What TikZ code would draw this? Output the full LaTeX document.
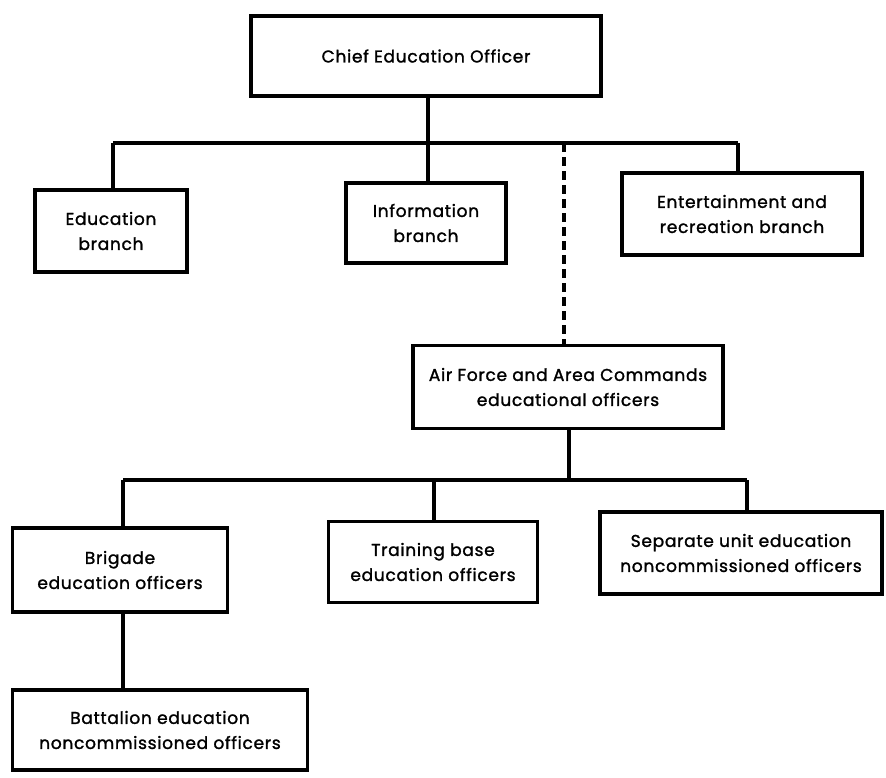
\documentclass[tikz,border=0pt]{standalone}
\usepackage{fontspec}
\setmainfont{Poppins}[LetterSpace=4,FakeBold=1.5]
\begin{document}
\begin{tikzpicture}[x=0.75pt,y=-0.75pt,
  box/.style={draw,line width=2.4pt,minimum width=#1,inner sep=0pt,align=center,
    font=\fontsize{12.8}{18.8}\selectfont},
  conn/.style={line width=2.6pt},
  dconn/.style={line width=2.6pt,dash pattern=on 7pt off 3.5pt}]
\useasboundingbox (0,0) rectangle (886,778);
\node[box=350*0.75pt,minimum height=80*0.75pt] (chief) at (426,56) {Chief Education Officer};
\node[box=152*0.75pt,minimum height=82*0.75pt] (edu) at (111,231) {Education\\branch};
\node[box=160*0.75pt,minimum height=80*0.75pt] (info) at (426,223) {Information\\branch};
\node[box=240*0.75pt,minimum height=82*0.75pt] (ent) at (742,214) {Entertainment and\\recreation branch};
\node[box=310*0.75pt,minimum height=83*0.75pt] (air) at (568,387) {Air Force and Area Commands\\educational officers};
\node[box=215*0.75pt,minimum height=84*0.75pt] (brig) at (120,570) {Brigade\\education officers};
\node[box=209*0.75pt,minimum height=81*0.75pt] (train) at (433,562) {Training base\\education officers};
\node[box=282*0.75pt,minimum height=82*0.75pt] (sep) at (741,553) {Separate unit education\\noncommissioned officers};
\node[box=295*0.75pt,minimum height=80*0.75pt] (batt) at (160,730) {Battalion education\\noncommissioned officers};
% upper bus
\coordinate (u1) at (113,143);
\coordinate (u2) at (428,143);
\coordinate (u3) at (564,143);
\coordinate (u4) at (738,143);
\draw[conn] (u1) -- (u4);
\draw[conn] (u2 |- chief.south) -- (u2);
\draw[conn] (u1) -- (u1 |- edu.north);
\draw[conn] (u2) -- (u2 |- info.north);
\draw[conn] (u4) -- (u4 |- ent.north);
\draw[dconn] (u3) -- (u3 |- air.north);
% lower bus
\coordinate (l1) at (123,480);
\coordinate (l2) at (434,480);
\coordinate (l3) at (569,480);
\coordinate (l4) at (747,480);
\draw[conn] (l1) -- (l4);
\draw[conn] (l3 |- air.south) -- (l3);
\draw[conn] (l1) -- (l1 |- brig.north);
\draw[conn] (l2) -- (l2 |- train.north);
\draw[conn] (l4) -- (l4 |- sep.north);
\draw[conn] (l1 |- brig.south) -- (l1 |- batt.north);
\end{tikzpicture}
\end{document}
